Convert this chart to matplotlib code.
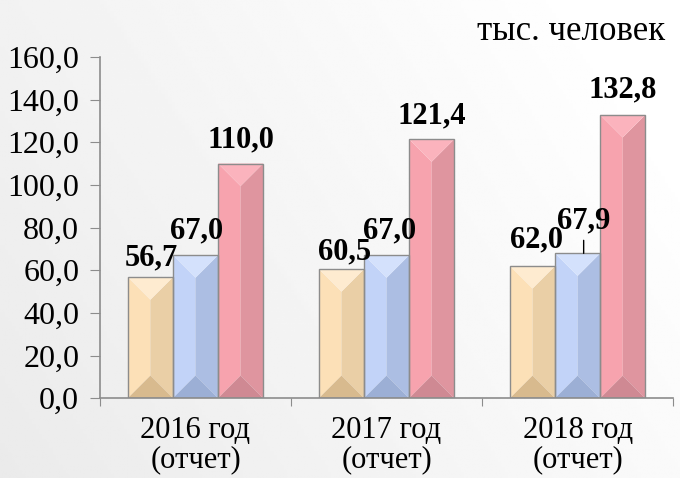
import numpy as np
import matplotlib
matplotlib.use("Agg")
import matplotlib.pyplot as plt
from matplotlib.patches import Polygon, Rectangle

plt.rcParams['font.family'] = ['Liberation Serif', 'DejaVu Serif']

categories = ["2016 год\n(отчет)", "2017 год\n(отчет)", "2018 год\n(отчет)"]
series_a = [56.7, 60.5, 62.0]
series_b = [67.0, 67.0, 67.9]
series_c = [110.0, 121.4, 132.8]
label_a = ["56,7", "60,5", "62,0"]
label_b = ["67,0", "67,0", "67,9"]
label_c = ["110,0", "121,4", "132,8"]
yticks = [0, 20, 40, 60, 80, 100, 120, 140, 160]
ytick_labels = ["0,0", "20,0", "40,0", "60,0", "80,0", "100,0", "120,0", "140,0", "160,0"]
unit_label = "тыс. человек"

# label offsets (pixels: dx, baseline gap above bar top)
off_a = [(1, 12), (3, 10), (4, 19)]
off_b = [(1, 17), (3, 17), (6, 25)]
off_c = [(0, 16), (0, 16), (0, 17)]

# bevel colour sets: (top, left, right, bottom)
pal_a = ("#FEEBD0", "#FCE0B7", "#EACFA6", "#D8BA8E")
pal_b = ("#D4E1FC", "#C2D3F8", "#ACBEE3", "#9CAFD5")
pal_c = ("#FBB3BD", "#F7A3AE", "#DF959F", "#CF8993")

fig = plt.figure(figsize=(6.8, 4.78), dpi=100)
PT = 72.0 / fig.dpi

# background gradient
bg = fig.add_axes([0, 0, 1, 1], zorder=-10)
gx = np.linspace(0, 1, 200)
gy = np.linspace(0, 1, 200)
GX, GY = np.meshgrid(gx, gy)
val = 0.92 + 0.08 * np.clip(0.75 * GX + 0.35 * GY, 0, 1)
bg.imshow(val, cmap='gray', vmin=0, vmax=1, extent=[0, 1, 0, 1], aspect='auto', origin='lower')
bg.axis('off')

ax = fig.add_axes([0.147, 0.167, 0.843, 0.714])
ax.set_facecolor('none')
ax.set_xlim(0, 3)
ax.set_ylim(0, 160)

fig.canvas.draw()
bbox = ax.get_window_extent()
px_per_x = bbox.width / 3.0
px_per_y = bbox.height / 160.0

width = 0.236
x = np.arange(3) + 0.5


def bevel_bar(xc, h, pal):
    x0, x1 = xc - width / 2, xc + width / 2
    bx = width / 2
    by_px = min(bx * px_per_x, h * px_per_y / 2)
    by = by_px / px_per_y
    bxx = by_px / px_per_x
    top, left, right, bottom = pal
    ax.add_patch(Polygon([(x0, 0), (x0 + bxx, by), (x0 + bxx, h - by), (x0, h)],
                         closed=True, facecolor=left, edgecolor='none', zorder=2))
    ax.add_patch(Polygon([(x1, 0), (x1 - bxx, by), (x1 - bxx, h - by), (x1, h)],
                         closed=True, facecolor=right, edgecolor='none', zorder=2))
    if x1 - bxx > x0 + bxx:
        ax.add_patch(Rectangle((x0 + bxx, by), (x1 - x0) - 2 * bxx, h - 2 * by,
                               facecolor=left, edgecolor='none', zorder=2))
    ax.add_patch(Polygon([(x0, h), (x0 + bxx, h - by), (x1 - bxx, h - by), (x1, h)],
                         closed=True, facecolor=top, edgecolor='none', zorder=2))
    ax.add_patch(Polygon([(x0, 0), (x0 + bxx, by), (x1 - bxx, by), (x1, 0)],
                         closed=True, facecolor=bottom, edgecolor='none', zorder=2))
    ax.add_patch(Rectangle((x0, 0), width, h, facecolor='none',
                           edgecolor='#8C8C8C', linewidth=1.0, zorder=3))


for i in range(3):
    bevel_bar(x[i] - width, series_a[i], pal_a)
    bevel_bar(x[i], series_b[i], pal_b)
    bevel_bar(x[i] + width, series_c[i], pal_c)

fs_lab = 22


def put_label(txt, xc, h, off):
    ax.annotate(txt, (xc, h), xytext=(off[0] * PT, off[1] * PT),
                textcoords='offset points', ha='center', va='baseline',
                fontsize=fs_lab, fontweight='bold', zorder=5)


for i in range(3):
    put_label(label_a[i], x[i] - width, series_a[i], off_a[i])
    put_label(label_b[i], x[i], series_b[i], off_b[i])
    put_label(label_c[i], x[i] + width, series_c[i], off_c[i])

# leader line for the third blue label
lx = x[2] + off_b[2][0] / px_per_x
ax.annotate("", (lx, series_b[2]), xytext=(lx, series_b[2] + 13 / px_per_y),
            arrowprops=dict(arrowstyle='-', color='black', lw=1.0,
                            shrinkA=0, shrinkB=0), zorder=5)

for s in ['top', 'right']:
    ax.spines[s].set_visible(False)
for s in ['left', 'bottom']:
    ax.spines[s].set_color('#8C8C8C')
    ax.spines[s].set_linewidth(1.2)

ax.set_yticks(yticks)
ax.set_yticklabels(ytick_labels, fontsize=23)
ax.tick_params(axis='y', direction='out', length=7, color='#8C8C8C', pad=8)

ax.set_xticks([0, 1, 2, 3])
ax.set_xticklabels([])
ax.set_xticks(x, minor=True)
ax.set_xticklabels(categories, minor=True, fontsize=22, linespacing=0.98)
ax.tick_params(axis='x', which='major', direction='out', length=6, color='#8C8C8C')
ax.tick_params(axis='x', which='minor', length=0, pad=13)

fig.text(0.978, 0.935, unit_label, ha='right', va='center', fontsize=25)

fig.savefig("out.png", dpi=100)
